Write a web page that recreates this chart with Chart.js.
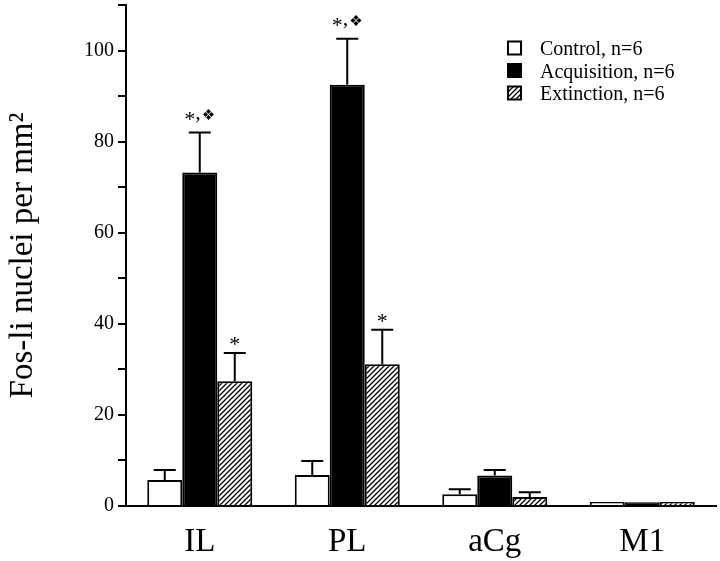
<!DOCTYPE html>
<html>
<head>
<meta charset="utf-8">
<script src="https://cdn.jsdelivr.net/npm/chart.js@4.4.1/dist/chart.umd.min.js"></script>
<style>
  html, body { margin: 0; padding: 0; background: #fff; }
  #wrap { width: 720px; height: 561px; }
</style>
</head>
<body>
<div id="wrap"><canvas id="c" width="720" height="561"></canvas></div>
<script>
// ---- data ----
const categories = ['IL', 'PL', 'aCg', 'M1'];
const seriesLabels = ['Control, n=6', 'Acquisition, n=6', 'Extinction, n=6'];
const control = [5.7, 6.8, 2.6, 0.9];
const controlErr = [2.2, 3.1, 1.1, 0];
const acquisition = [73.2, 92.5, 6.7, 0.8];
const acquisitionErr = [8.8, 10.1, 1.2, 0];
const extinction = [27.4, 31.1, 2.0, 0.9];
const extinctionErr = [6.2, 7.6, 1.0, 0];
const acquisitionMarks = ['*,\u2756', '*,\u2756', '', ''];
const extinctionMarks = ['*', '*', '', ''];
const yTickLabels = [0, 20, 40, 60, 80, 100];
const yTitle = 'Fos-li nuclei per mm\u00B2';

const SERIF = "'Liberation Serif', 'Times New Roman', serif";

// hatch pattern
function makeHatch() {
  const s = 5;
  const pc = document.createElement('canvas');
  pc.width = s; pc.height = s;
  const g = pc.getContext('2d');
  g.fillStyle = '#fff';
  g.fillRect(0, 0, s, s);
  g.strokeStyle = '#000';
  g.lineWidth = 1.3;
  g.beginPath();
  g.moveTo(-1, s + 1); g.lineTo(s + 1, -1);
  g.moveTo(-1, 1); g.lineTo(1, -1);
  g.moveTo(s - 1, s + 1); g.lineTo(s + 1, s - 1);
  g.stroke();
  return document.getElementById('c').getContext('2d').createPattern(pc, 'repeat');
}
const hatch = makeHatch();

const errors = [controlErr, acquisitionErr, extinctionErr];
const marks = [null, acquisitionMarks, extinctionMarks];

const bgPlugin = {
  id: 'bg',
  beforeDraw(chart) {
    const ctx = chart.ctx;
    ctx.save();
    ctx.fillStyle = '#fff';
    ctx.fillRect(0, 0, chart.width, chart.height);
    ctx.restore();
  }
};

function drawMark(ctx, text, cx, top, di) {
  const parts = text.split(',');
  const starFont = "22px " + SERIF;
  const symFont = "15px 'DejaVu Sans'";
  const base = di === 1 ? top - 7 : top - 2;
  ctx.fillStyle = '#000';
  ctx.textBaseline = 'alphabetic';
  if (parts.length === 1) {
    ctx.font = starFont;
    ctx.textAlign = 'center';
    ctx.fillText(parts[0], cx, base);
    return;
  }
  ctx.font = starFont;
  const wStar = ctx.measureText('*').width;
  const wComma = ctx.measureText(',').width;
  ctx.font = symFont;
  const mSym = ctx.measureText(parts[1]);
  const wSym = mSym.width;
  const total = wStar + wComma + 1 + wSym;
  let x = cx - total / 2;
  ctx.textAlign = 'left';
  ctx.font = starFont;
  ctx.fillText('*', x, base);
  x += wStar;
  ctx.fillText(',', x, base - 7);
  x += wComma + 1;
  ctx.font = symFont;
  const centerY = base - 11;
  const off = (mSym.actualBoundingBoxAscent - mSym.actualBoundingBoxDescent) / 2;
  ctx.fillText(parts[1], x, centerY + off);
}

const errPlugin = {
  id: 'errbars',
  afterDatasetsDraw(chart) {
    const ctx = chart.ctx;
    const ys = chart.scales.y;
    ctx.save();
    chart.data.datasets.forEach((ds, di) => {
      const meta = chart.getDatasetMeta(di);
      meta.data.forEach((bar, i) => {
        const e = errors[di][i];
        const top = ys.getPixelForValue(ds.data[i] + e);
        if (e > 0) {
          ctx.strokeStyle = '#000';
          ctx.lineWidth = 2;
          ctx.beginPath();
          ctx.moveTo(bar.x, bar.y);
          ctx.lineTo(bar.x, top);
          ctx.moveTo(bar.x - 11, top);
          ctx.lineTo(bar.x + 11, top);
          ctx.stroke();
        }
        const m = marks[di] ? marks[di][i] : '';
        if (m) drawMark(ctx, m, bar.x, top, di);
      });
    });
    ctx.restore();
  }
};

const legendPlugin = {
  id: 'customLegend',
  afterDraw(chart) {
    const ctx = chart.ctx;
    ctx.save();
    const x0 = 508, y0 = 48, dy = 22.5;
    chart.data.datasets.forEach((ds, i) => {
      const cy = y0 + i * dy;
      ctx.fillStyle = ds.backgroundColor;
      ctx.fillRect(x0, cy - 6.5, 13, 13);
      ctx.strokeStyle = '#000';
      ctx.lineWidth = 2;
      ctx.strokeRect(x0, cy - 6.5, 13, 13);
      ctx.fillStyle = '#000';
      ctx.font = "20px " + SERIF;
      ctx.textAlign = 'left';
      ctx.textBaseline = 'alphabetic';
      ctx.fillText(ds.label, 540, cy + 7);
    });
    ctx.restore();
  }
};

new Chart(document.getElementById('c'), {
  type: 'bar',
  data: {
    labels: categories,
    datasets: [
      { label: seriesLabels[0], data: control, backgroundColor: '#fff', borderColor: '#000', borderWidth: 2 },
      { label: seriesLabels[1], data: acquisition, backgroundColor: '#000', borderColor: '#000', borderWidth: 2 },
      { label: seriesLabels[2], data: extinction, backgroundColor: hatch, borderColor: '#000', borderWidth: 2 }
    ]
  },
  options: {
    responsive: false,
    animation: false,
    devicePixelRatio: 1,
    layout: { padding: { top: 5, right: 4, left: 0, bottom: 0 } },
    datasets: { bar: { barPercentage: 1.0, categoryPercentage: 0.712 } },
    plugins: { legend: { display: false }, tooltip: { enabled: false } },
    scales: {
      x: {
        grid: { display: false, drawTicks: false },
        border: { display: true, color: '#000', width: 2 },
        ticks: { color: '#000', font: { family: SERIF, size: 33 }, padding: 17, maxRotation: 0 },
        afterFit(s) { s.height = 55; }
      },
      y: {
        min: 0, max: 110,
        grid: { drawOnChartArea: false, drawTicks: true, tickLength: 8, color: '#000', lineWidth: 2 },
        border: { display: true, color: '#000', width: 2 },
        ticks: {
          stepSize: 10, color: '#000', padding: 4,
          font: { family: SERIF, size: 20 },
          callback: (v) => yTickLabels.includes(v) ? String(v) : ''
        },
        title: { display: true, text: yTitle, color: '#000', font: { family: SERIF, size: 33 }, padding: { top: 4, bottom: 0 } },
        afterFit(s) { s.width = 126; s.paddingTop = 0; s.paddingBottom = 0; }
      }
    }
  },
  plugins: [bgPlugin, errPlugin, legendPlugin]
});
</script>
</body>
</html>
